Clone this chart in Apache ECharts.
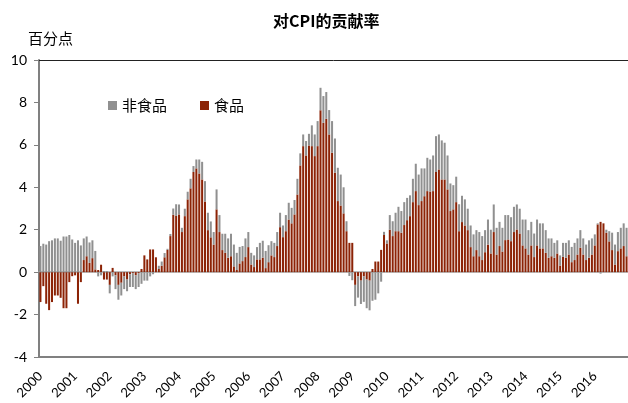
<!DOCTYPE html>
<html>
<head>
<meta charset="utf-8">
<script src="https://cdn.jsdelivr.net/npm/echarts@6/dist/echarts.min.js"></script>
<style>
  html, body { margin: 0; padding: 0; background: #fff; }
  #chart { width: 628px; height: 403px; }
</style>
</head>
<body>
<div id="chart"></div>
<script>
// 月度类目 2000-01 ~ 2016-12
const years = [];
for (let y = 2000; y <= 2016; y++) years.push(y);
const months = [];
years.forEach(y => {
  for (let m = 1; m <= 12; m++) months.push(y + '-' + (m < 10 ? '0' + m : m));
});

// 食品对CPI的贡献（百分点）
const food = [
  -1.41, -0.66, -1.49, -1.79, -1.41, -1.10, -1.10, -1.21, -1.70, -1.70, -0.47, -0.19,
  -0.15, -1.49, -0.47, 0.57, 0.75, 0.44, 0.66, 0.13, 0.10, 0.35, -0.35, -0.35,
  -0.60, 0.20, -0.15, -0.60, -0.50, -0.20, -0.35, -0.10, -0.05, -0.15, -0.05, 0.15,
  0.79, 0.60, 1.07, 1.07, 0.70, 0.15, 0.30, 0.70, 1.05, 1.70, 2.70, 2.65,
  2.72, 1.89, 2.64, 3.43, 3.95, 4.72, 4.89, 4.65, 4.37, 3.33, 1.98, 1.64,
  1.30, 2.96, 1.89, 1.04, 0.91, 0.68, 0.75, 0.27, 0.10, 0.41, 0.52, 0.71,
  1.18, 0.36, 0.24, 0.60, 0.60, 0.68, 0.19, 0.47, 0.79, 0.71, 1.23, 2.12,
  1.65, 1.93, 2.48, 2.30, 2.72, 3.66, 5.03, 5.94, 5.50, 5.97, 5.94, 5.47,
  5.94, 7.63, 7.04, 7.23, 6.49, 5.63, 4.69, 3.35, 3.14, 2.77, 1.93, 1.38,
  1.38, -0.60, -0.20, -0.40, -0.20, -0.35, -0.40, 0.15, 0.50, 0.50, 1.05, 1.75,
  1.35, 2.00, 1.70, 1.93, 1.93, 1.86, 2.22, 2.45, 2.64, 3.30, 3.82, 3.16,
  3.35, 3.58, 3.82, 3.80, 3.82, 4.72, 4.84, 4.37, 4.37, 3.90, 2.88, 2.96,
  3.30, 1.93, 2.36, 2.20, 1.98, 1.18, 0.75, 1.04, 0.75, 0.57, 0.94, 1.30,
  0.88, 1.89, 0.83, 1.23, 0.97, 1.51, 1.54, 1.46, 1.89, 2.01, 1.82, 1.26,
  1.12, 0.83, 1.26, 0.71, 1.26, 1.12, 1.12, 0.91, 0.68, 0.75, 0.68, 0.88,
  0.31, 0.72, 0.68, 0.83, 0.47, 0.57, 0.83, 1.15, 0.83, 0.57, 0.68, 0.83,
  1.26, 2.25, 2.37, 2.30, 1.86, 1.45, 1.04, 0.36, 0.99, 1.12, 1.23, 0.75
];

// 非食品对CPI的贡献（百分点）
const nonFood = [
  1.23, 1.34, 1.30, 1.46, 1.50, 1.59, 1.59, 1.48, 1.68, 1.68, 1.75, 1.54,
  1.38, 1.50, 1.26, 1.02, 0.93, 0.96, 0.84, 0.87, -0.20, -0.15, 0.05, 0.05,
  -0.40, -0.20, -0.65, -0.70, -0.60, -0.60, -0.55, -0.60, -0.65, -0.65, -0.65, -0.55,
  -0.40, -0.40, -0.20, -0.10, 0.00, 0.15, 0.20, 0.20, 0.05, 0.10, 0.30, 0.55,
  0.47, 0.20, 0.35, 0.36, 0.45, 0.28, 0.42, 0.66, 0.83, 0.96, 0.82, 0.75,
  0.59, 0.94, 0.80, 0.77, 0.90, 0.91, 1.06, 1.03, 0.81, 0.78, 0.71, 0.88,
  0.71, 0.55, 0.55, 0.58, 0.78, 0.80, 0.81, 0.80, 0.67, 0.67, 0.66, 0.68,
  0.55, 0.76, 0.79, 0.73, 0.68, 0.74, 0.57, 0.55, 0.68, 0.55, 0.98, 1.02,
  1.18, 1.06, 1.26, 1.26, 1.15, 1.49, 1.61, 1.57, 1.46, 1.23, 0.47, -0.18,
  -0.38, -1.00, -1.00, -1.10, -1.20, -1.35, -1.40, -1.35, -1.30, -1.00, -0.45, 0.15,
  0.15, 0.69, 0.70, 0.87, 1.15, 1.02, 1.08, 1.05, 0.98, 1.10, 1.29, 1.44,
  1.54, 1.31, 1.57, 1.51, 1.68, 1.69, 1.65, 1.84, 1.73, 1.60, 1.30, 1.14,
  1.20, 1.27, 1.24, 1.23, 1.01, 1.02, 1.03, 0.94, 1.14, 1.13, 1.04, 1.18,
  1.12, 1.30, 1.26, 1.14, 1.12, 1.18, 1.15, 1.13, 1.19, 1.18, 1.17, 1.22,
  1.36, 1.15, 1.11, 1.11, 1.22, 1.18, 1.18, 1.07, 0.91, 0.84, 0.70, 0.62,
  0.48, 0.66, 0.70, 0.67, 0.72, 0.81, 0.76, 0.83, 0.76, 0.73, 0.82, 0.76,
  0.52, 0.05, -0.07, 0.00, 0.14, 0.48, 0.82, 0.94, 0.90, 0.97, 1.07, 1.34
];

const yTicks = [-4, -2, 0, 2, 4, 6, 8, 10];

const cjk = '"Noto Sans CJK SC", sans-serif';
const latin = 'Lato, "Liberation Sans", sans-serif';
const isJan = (idx, v) => months[idx].slice(5) === '01';

const chart = echarts.init(document.getElementById('chart'));
const option = {
  animation: false,
  title: {
    text: '对CPI的贡献率',
    left: 268,
    top: 8,
    textStyle: { fontSize: 16, fontWeight: 'bold', fontFamily: cjk, color: '#000' }
  },
  graphic: [{
    type: 'text',
    left: 28,
    top: 31,
    style: { text: '百分点', font: '15px ' + cjk, fill: '#000' }
  }],
  legend: {
    left: 103,
    top: 93,
    data: ['非食品', '食品'],
    icon: 'rect',
    itemWidth: 9,
    itemHeight: 9,
    itemGap: 33,
    textStyle: { fontSize: 15, fontFamily: cjk, color: '#000' }
  },
  grid: { left: 39, right: 0, top: 60, bottom: 46 },
  xAxis: [
    {
      type: 'category',
      data: months,
      axisLine: { onZero: true, lineStyle: { color: '#a6a6a6', width: 1.5 } },
      axisTick: { interval: isJan, length: 5, lineStyle: { color: '#a6a6a6' } },
      axisLabel: { show: false }
    },
    {
      type: 'category',
      data: months,
      position: 'bottom',
      axisLine: { onZero: false, lineStyle: { color: '#808080', width: 2 } },
      axisTick: { show: false },
      axisLabel: {
        interval: isJan,
        formatter: v => v.slice(0, 4),
        rotate: 45,
        margin: 17,
        fontSize: 13,
        fontFamily: latin,
        color: '#000'
      }
    },
    {
      type: 'category',
      data: months,
      position: 'top',
      axisLine: { onZero: false, lineStyle: { color: '#222', width: 1 } },
      axisTick: { show: false },
      axisLabel: { show: false }
    }
  ],
  yAxis: {
    type: 'value',
    min: yTicks[0],
    max: yTicks[yTicks.length - 1],
    interval: 2,
    axisLine: { show: true, lineStyle: { color: '#808080', width: 2 } },
    axisTick: { show: true, length: 5, lineStyle: { color: '#808080' } },
    axisLabel: { margin: 12, fontSize: 14, fontFamily: latin, color: '#000' },
    splitLine: { show: false }
  },
  series: [
    {
      name: '食品',
      type: 'bar',
      stack: 'total',
      data: food,
      barCategoryGap: '30%',
      itemStyle: { color: '#8c2306' }
    },
    {
      name: '非食品',
      type: 'bar',
      stack: 'total',
      data: nonFood,
      barCategoryGap: '30%',
      itemStyle: { color: '#909090' }
    }
  ]
};
chart.setOption(option);
</script>
</body>
</html>
